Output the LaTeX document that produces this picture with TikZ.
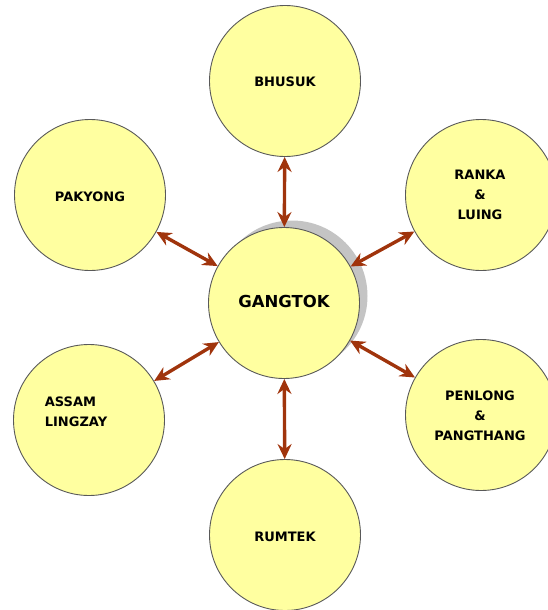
\documentclass[tikz,border=0pt]{standalone}
\usepackage{fontspec}
\setmainfont{DejaVu Sans}
\usetikzlibrary{arrows.meta}
\definecolor{placefill}{RGB}{255,255,160}
\definecolor{linkred}{RGB}{160,52,12}
\definecolor{shadowgray}{RGB}{196,196,196}

\begin{document}
\begin{tikzpicture}[
  x=1pt, y=-1pt,
  place/.style={circle, draw=black!65, line width=0.9pt, fill=placefill,
                minimum size=151pt, inner sep=0pt},
  lbl/.style={font=\bfseries\fontsize{13}{20}\selectfont, align=center},
  link/.style={{Stealth[length=15pt,width=14pt,inset=5pt]}-{Stealth[length=15pt,width=14pt,inset=5pt]},
               linkred, line width=3.4pt},
]
\useasboundingbox (0,0) rectangle (547,610);

% shadow behind the centre
\node[circle, fill=shadowgray, minimum size=151pt, inner sep=0pt] (shadow) at (292,296) {};

\node[place] (gangtok) at (284,303) {};
\node[font=\bfseries\fontsize{16.5}{20}\selectfont] (gangtoktxt) at (284,301) {GANGTOK};

\node[place] (bhusuk) at (285,81) {};
\node[lbl] (bhusuktxt) at (285,82) {BHUSUK};

\node[place] (pakyong) at (90,195) {};
\node[lbl] (pakyongtxt) at (90,197) {PAKYONG};

\node[place] (ranka) at (481,195) {};
\node[lbl] (rankatxt) at (480,195) {RANKA\\\&\\LUING};

\node[place] (assam) at (89,420) {};
\node[lbl, align=left] (assamtxt) at (76,412) {ASSAM\\LINGZAY};

\node[place] (penlong) at (481,415) {};
\node[lbl] (penlongtxt) at (480,416) {PENLONG\\\&\\PANGTHANG};

\node[place] (rumtek) at (285,535) {};
\node[lbl] (rumtektxt) at (285,537) {RUMTEK};

\draw[link] (bhusuk) -- (gangtok);
\draw[link] (pakyong) -- (gangtok);
\draw[link] (ranka) -- (gangtok);
\draw[link] (assam) -- (gangtok);
\draw[link] (penlong) -- (gangtok);
\draw[link] (rumtek) -- (gangtok);
\end{tikzpicture}
\end{document}
